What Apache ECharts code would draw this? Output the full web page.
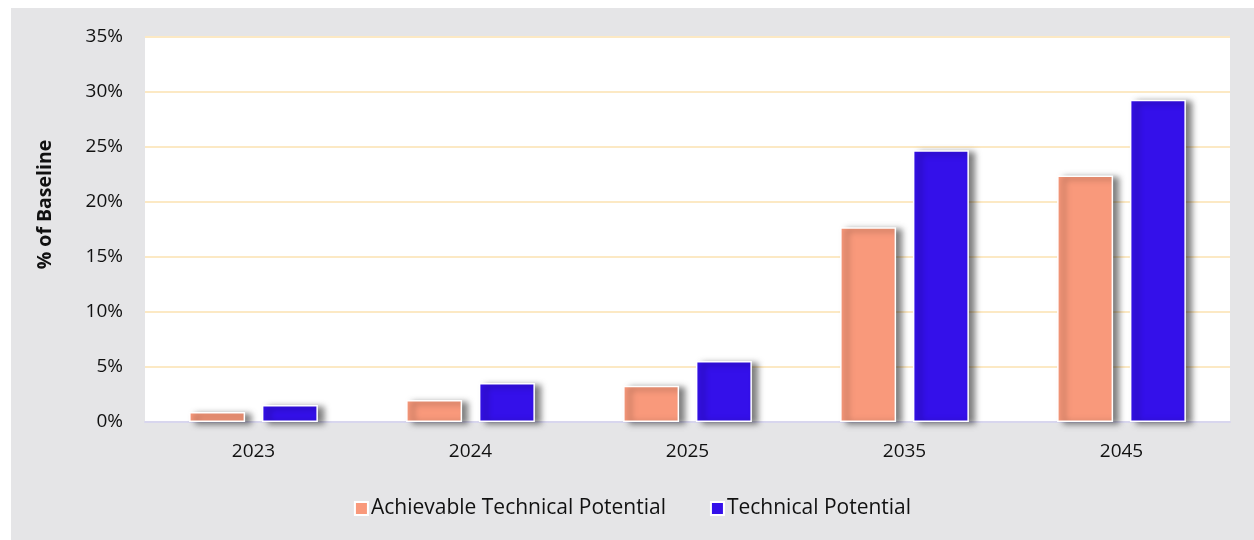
<!DOCTYPE html>
<html>
<head>
<meta charset="utf-8">
<script src="https://cdn.jsdelivr.net/npm/echarts@6/dist/echarts.min.js"></script>
<style>
	html, body { margin: 0; padding: 0; background: #fff; }
	.echart { position: absolute; left: 11px; top: 8px; width: 1243px; height: 532px; }
</style>
</head>
<body>
<div id="chart" class="echart"></div>
<script>
// data
const years = ["2023", "2024", "2025", "2035", "2045"];
const achievable = [0.9, 2.0, 3.3, 17.7, 22.4];
const technical = [1.55, 3.55, 5.55, 24.7, 29.3];
const seriesNames = ["Achievable Technical Potential", "Technical Potential"];

let myChart = echarts.init(document.getElementById("chart"));

const barShadow = {
	borderColor: "#fff",
	borderWidth: 1.5,
	shadowBlur: 6,
	shadowColor: "rgba(0,0,0,0.5)",
	shadowOffsetX: 6,
	shadowOffsetY: 2,
};

let option = {
	backgroundColor: "#e5e5e7",
	textStyle: { fontFamily: "Open Sans, Noto Sans, sans-serif" },
	grid: {
		left: 134,
		right: 24,
		top: 29,
		bottom: 118,
		show: true,
		backgroundColor: "#fff",
		borderWidth: 0,
	},
	legend: {
		bottom: 16,
		left: "center",
		itemWidth: 13,
		itemHeight: 13,
		itemGap: 44,
		icon: "rect",
		itemStyle: { borderColor: "#fff", borderWidth: 2, shadowBlur: 0, shadowOffsetX: 0, shadowOffsetY: 0 },
		textStyle: { fontSize: 21, color: "#111", padding: [0, 0, 0, -2] },
		data: seriesNames,
	},
	xAxis: {
		type: "category",
		data: years,
		axisLine: { lineStyle: { color: "#d8d6ee", width: 2 } },
		axisTick: { show: false },
		axisLabel: { fontSize: 19, color: "#111", margin: 20 },
	},
	yAxis: {
		type: "value",
		min: 0,
		max: 35,
		interval: 5,
		name: "% of Baseline",
		nameLocation: "middle",
		nameGap: 90,
		nameRotate: 90,
		nameTextStyle: { fontSize: 19.5, fontWeight: "bold", color: "#111", padding: [0, 0, 0, 50] },
		axisLabel: { fontSize: 19, color: "#111", margin: 22, formatter: "{value}%" },
		axisLine: { show: false },
		axisTick: { show: false },
		splitLine: { lineStyle: { color: "#fce9c4", width: 2 } },
	},
	series: [
		{
			name: seriesNames[0],
			type: "bar",
			data: achievable,
			barWidth: 56,
			barGap: "30%",
			itemStyle: Object.assign({ color: "#f9997b" }, barShadow),
		},
		{
			name: seriesNames[1],
			type: "bar",
			data: technical,
			barWidth: 56,
			barGap: "30%",
			itemStyle: Object.assign({ color: "#3410ea" }, barShadow),
		},
	],
};
myChart.setOption(option);
</script>
</body>
</html>
